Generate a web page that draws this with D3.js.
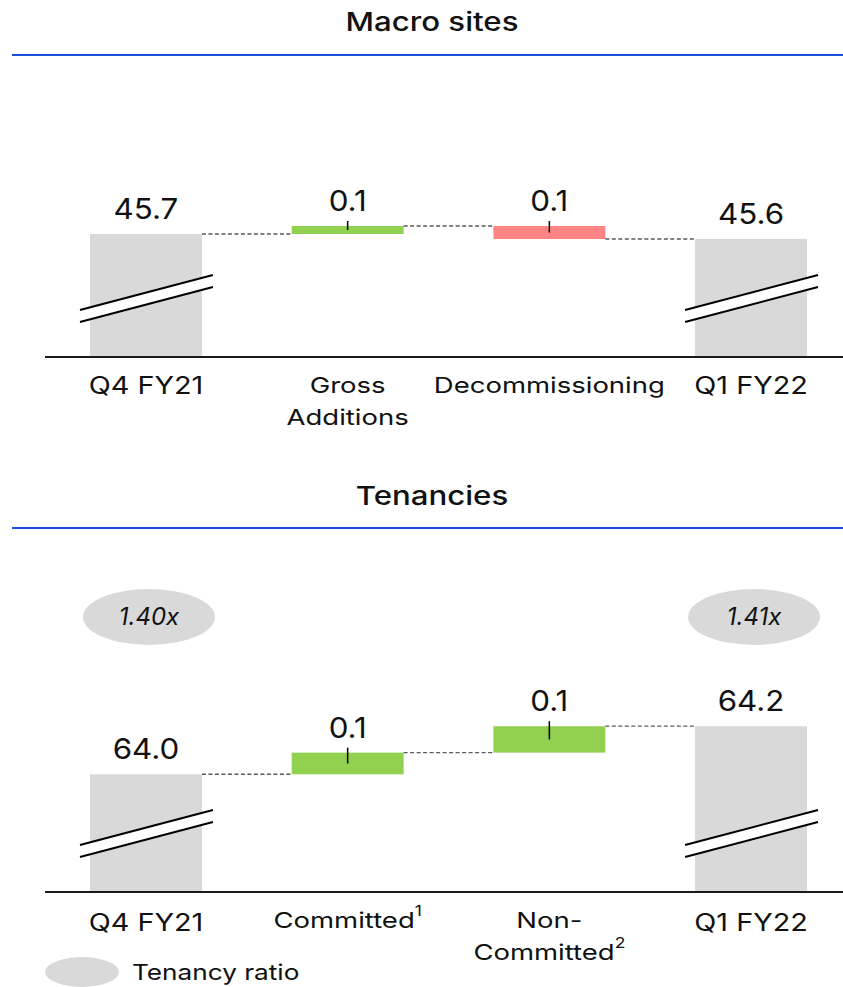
<!DOCTYPE html>
<html>
<head>
<meta charset="utf-8">
<script src="https://cdn.jsdelivr.net/npm/d3@7/dist/d3.min.js"></script>
<style>
  html, body { margin: 0; padding: 0; background: #fff; }
  svg { display: block; }
  text { font-family: Inter, "Noto Sans", sans-serif; fill: #111; }
</style>
</head>
<body>
<svg id="chart" width="843" height="987"></svg>
<script>
// ---- data ----
const macroTitle = "Macro sites";
const macroCategories = ["Q4 FY21", "Gross Additions", "Decommissioning", "Q1 FY22"];
const macroLabelLines = [["Q4 FY21"], ["Gross", "Additions"], ["Decommissioning"], ["Q1 FY22"]];
const macroStart = 45.66;            // thousand sites, Q4 FY21
const macroDeltas = [0.08, -0.13];   // gross additions, decommissioning

const tenancyTitle = "Tenancies";
const tenancyCategories = ["Q4 FY21", "Committed", "Non-Committed", "Q1 FY22"];
const tenancyLabelLines = [["Q4 FY21"], ["Committed|1"], ["Non-", "Committed|2"], ["Q1 FY22"]];
const tenancyStart = 64.02;          // thousand tenancies, Q4 FY21
const tenancyDeltas = [0.09, 0.11];  // committed, non-committed
const tenancyRatios = [1.40, 1.41];  // Q4 FY21, Q1 FY22

const legendLabel = "Tenancy ratio";

// ---- style ----
const W = 843, H = 987;
const C = { total: "#d9d9d9", up: "#92d050", down: "#ff8585", rule: "#1c50d8", axis: "#1a1a1a", dash: "#5a5a5a" };

const svg = d3.select("#chart");

// the house typeface is a wide grotesque; widen the fallback horizontally
const wide = (x, y, s) => `translate(${x},${y}) scale(${s},1)`;

// build waterfall steps: start total, deltas, closing total
function steps(start, deltas) {
  const out = [{ kind: "total", v0: 0, v1: start, value: start }];
  let level = start;
  deltas.forEach(d => {
    out.push({ kind: d >= 0 ? "up" : "down", v0: level, v1: level + d, value: d });
    level += d;
  });
  out.push({ kind: "total", v0: 0, v1: level, value: level });
  return out;
}

const x = d3.scaleBand().range([45, 852]).paddingInner(0.445).paddingOuter(0.223);

function panel(cfg) {
  const g = svg.append("g");
  const data = steps(cfg.start, cfg.deltas);
  x.domain(cfg.categories);
  const bw = x.bandwidth();
  const cx = i => x(cfg.categories[i]) + bw / 2;
  const y = d3.scaleLinear().domain(cfg.yDomain).range([cfg.baseY, cfg.topY]);

  // title and blue rule
  g.append("text").attr("transform", wide(432, cfg.titleY, 1.2))
    .attr("text-anchor", "middle").attr("font-size", 26).attr("font-weight", 500)
    .text(cfg.title);
  g.append("line").attr("x1", 12).attr("x2", W).attr("y1", cfg.ruleY).attr("y2", cfg.ruleY)
    .attr("stroke", C.rule).attr("stroke-width", 2);

  // bars
  const top = d => y(Math.max(d.v0, d.v1));
  const bottom = d => d.kind === "total" ? cfg.baseY : y(Math.min(d.v0, d.v1));
  g.selectAll("rect.bar").data(data).join("rect").attr("class", "bar")
    .attr("x", (d, i) => x(cfg.categories[i]))
    .attr("width", bw)
    .attr("y", top)
    .attr("height", d => bottom(d) - top(d))
    .attr("fill", d => C[d.kind]);

  // dashed connectors between consecutive bars
  const links = data.slice(0, -1).map((d, i) => ({ i, level: d.v1 }));
  g.selectAll("line.link").data(links).join("line").attr("class", "link")
    .attr("x1", d => x(cfg.categories[d.i]) + bw)
    .attr("x2", d => x(cfg.categories[d.i + 1]))
    .attr("y1", d => y(d.level)).attr("y2", d => y(d.level))
    .attr("stroke", C.dash).attr("stroke-width", 1.3).attr("stroke-dasharray", "4,2.5");

  // axis break marks on the total bars
  const totals = data.map((d, i) => ({ d, i })).filter(o => o.d.kind === "total");
  totals.forEach(o => {
    const x0 = x(cfg.categories[o.i]) - 10, x1 = x(cfg.categories[o.i]) + bw + 11;
    const a = cfg.baseY - 47, b = cfg.baseY - 35, rise = 35;
    g.append("path")
      .attr("d", `M${x0},${a}L${x1},${a - rise}L${x1},${b - rise}L${x0},${b}Z`)
      .attr("fill", "#fff");
    [a, b].forEach(yy => g.append("line")
      .attr("x1", x0).attr("y1", yy).attr("x2", x1).attr("y2", yy - rise)
      .attr("stroke", "#000").attr("stroke-width", 2));
  });

  // value labels
  g.selectAll("text.val").data(data).join("text").attr("class", "val")
    .attr("transform", (d, i) => wide(cx(i), top(d) - 15, 1.08))
    .attr("text-anchor", "middle").attr("font-size", 29)
    .text(d => Math.abs(d.value).toFixed(1));

  // leader ticks on the change bars
  const deltasOnly = data.map((d, i) => ({ d, i })).filter(o => o.d.kind !== "total");
  g.selectAll("line.tick").data(deltasOnly).join("line").attr("class", "tick")
    .attr("x1", o => cx(o.i)).attr("x2", o => cx(o.i))
    .attr("y1", o => top(o.d) - 5)
    .attr("y2", o => (top(o.d) + bottom(o.d)) / 2)
    .attr("stroke", "#000").attr("stroke-width", 1.5);

  // baseline
  g.append("line").attr("x1", 45).attr("x2", W).attr("y1", cfg.baseY).attr("y2", cfg.baseY)
    .attr("stroke", C.axis).attr("stroke-width", 2);

  // category labels
  cfg.labelLines.forEach((lines, i) => {
    const big = lines.length === 1 && /^Q\d/.test(lines[0]);
    const t = g.append("text")
      .attr("transform", wide(cx(i), cfg.baseY + (big ? 37 + cfg.bigShift : 36), big ? 1.2 : 1.25))
      .attr("text-anchor", "middle")
      .attr("font-size", big ? 24 : 22);
    lines.forEach((ln, k) => {
      const [main, sup] = ln.split("|");
      t.append("tspan").attr("x", 0).attr("dy", k === 0 ? 0 : 32).text(main);
      if (sup) {
        t.append("tspan").attr("font-size", 14).attr("dy", -12).text(sup);
        t.append("tspan").attr("font-size", 14).attr("dy", 12).text("");
      }
    });
  });
  return { g, x, bw, cx, data };
}

panel({
  title: macroTitle, titleY: 31, ruleY: 55, baseY: 357, bigShift: 0,
  categories: macroCategories, labelLines: macroLabelLines,
  start: macroStart, deltas: macroDeltas,
  yDomain: [44.43, 45.8], topY: 220
});

const ten = panel({
  title: tenancyTitle, titleY: 505, ruleY: 528, baseY: 892, bigShift: 2,
  categories: tenancyCategories, labelLines: tenancyLabelLines,
  start: tenancyStart, deltas: tenancyDeltas,
  yDomain: [63.53, 64.30], topY: 707
});

// tenancy ratio bubbles over the opening and closing totals
const ratioIdx = [0, tenancyCategories.length - 1];
const bubbles = svg.append("g").selectAll("g").data(tenancyRatios).join("g")
  .attr("transform", (r, k) => `translate(${ten.cx(ratioIdx[k]) + 3},617)`);
bubbles.append("ellipse").attr("rx", 66).attr("ry", 28).attr("fill", C.total);
bubbles.append("text").attr("text-anchor", "middle").attr("y", 8)
  .attr("font-size", 24).attr("font-style", "italic")
  .text(r => r.toFixed(2) + "x");

// legend
const lg = svg.append("g").attr("transform", "translate(82,972)");
lg.append("ellipse").attr("rx", 37).attr("ry", 15).attr("fill", C.total);
lg.append("text").attr("transform", wide(50, 8, 1.19)).attr("font-size", 22).text(legendLabel);
</script>
</body>
</html>
